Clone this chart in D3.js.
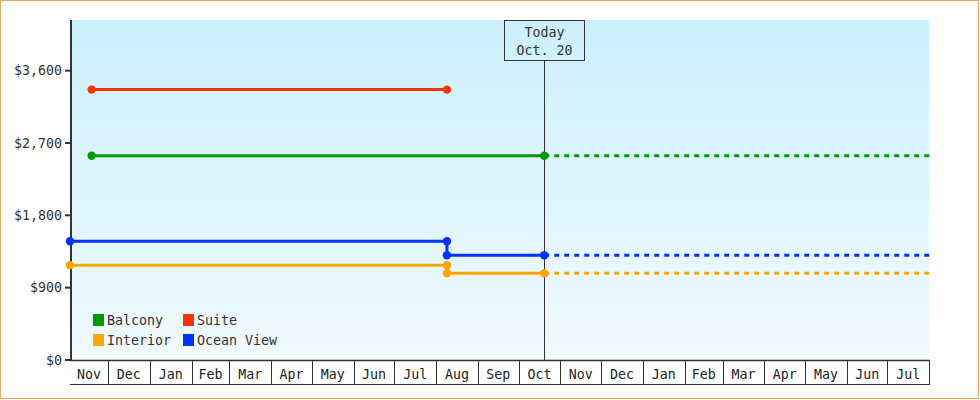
<!DOCTYPE html>
<html>
<head>
<meta charset="utf-8">
<script src="https://cdn.jsdelivr.net/npm/d3@7"></script>
<style>
  html, body { margin: 0; padding: 0; background: #fff; }
  svg { display: block; }
  text { font-family: "DejaVu Sans Mono", "Liberation Mono", monospace; }
</style>
</head>
<body>
<svg id="chart" width="980" height="400"></svg>
<script>
// ---------- data ----------
const categories = ["Balcony", "Suite", "Interior", "Ocean View"];
const seriesColors = ["#009900", "#ff3300", "#ffa500", "#0033ff"];
const balconyDates = ["2021-11-19", "2022-10-20"];
const balconyValues = [2542, 2542];
const suiteDates = ["2021-11-19", "2022-08-09"];
const suiteValues = [3364, 3364];
const interiorDates = ["2021-11-03", "2022-08-09", "2022-08-09", "2022-10-20"];
const interiorValues = [1178, 1178, 1079, 1079];
const oceanDates = ["2021-11-03", "2022-08-09", "2022-08-09", "2022-10-20"];
const oceanValues = [1477, 1477, 1303, 1303];
const projected = [true, false, true, true]; // extends dashed past today
const yTicks = [0, 900, 1800, 2700, 3600];
const xDomain = ["2021-11-03", "2023-08-01"];
const todayDate = "2022-10-20";
const todayLabel = ["Today", "Oct. 20"];
const yMax = 4230;

(function () {
// ---------- setup ----------
const parse = d3.timeParse("%Y-%m-%d");
const seriesDates = [balconyDates, suiteDates, interiorDates, oceanDates];
const seriesValues = [balconyValues, suiteValues, interiorValues, oceanValues];
const series = categories.map((name, i) => ({
  name, color: seriesColors[i], projected: projected[i],
  points: seriesDates[i].map((d, j) => ({ date: parse(d), value: seriesValues[i][j] }))
}));

const FS = 13.3;
const svg = d3.select("#chart");
const pLeft = 70, pRight = 929.3, pTop = 20, pBottom = 360;
const x = d3.scaleTime().domain(xDomain.map(parse)).range([pLeft, pRight]);
const y = d3.scaleLinear().domain([0, yMax]).range([pBottom, pTop]);

// outer border
svg.append("rect").attr("x", 0.5).attr("y", 0.5).attr("width", 978).attr("height", 398)
  .attr("fill", "#fff").attr("stroke", "#e9a860").attr("stroke-width", 1);

// background gradient
const defs = svg.append("defs");
const grad = defs.append("linearGradient").attr("id", "bg").attr("x1", 0).attr("y1", 0).attr("x2", 0).attr("y2", 1);
grad.append("stop").attr("offset", "0%").attr("stop-color", "#ccf0fd");
grad.append("stop").attr("offset", "100%").attr("stop-color", "#f1faff");
svg.append("rect").attr("x", pLeft).attr("y", pTop).attr("width", pRight - pLeft).attr("height", pBottom - pTop)
  .attr("fill", "url(#bg)");

// y axis
const yAxis = svg.append("g");
yAxis.append("line").attr("x1", pLeft + 1).attr("x2", pLeft + 1).attr("y1", pTop).attr("y2", pBottom + 1)
  .attr("stroke", "#333").attr("stroke-width", 2);
const fmt = d3.format("$,");
yTicks.forEach(t => {
  yAxis.append("line").attr("x1", pLeft - 5).attr("x2", pLeft).attr("y1", y(t)).attr("y2", y(t))
    .attr("stroke", "#333").attr("stroke-width", 2);
  yAxis.append("text").attr("x", pLeft - 8).attr("y", y(t)).attr("dy", "0.35em")
    .attr("text-anchor", "end").attr("font-size", FS).attr("fill", "#333").text(fmt(t));
});

// x axis month cells
const xAxis = svg.append("g");
const d0 = x.domain()[0], d1 = x.domain()[1];
const bounds = [d0].concat(d3.timeMonth.range(d3.timeMonth.ceil(d0), d1)).concat([d1]);
xAxis.append("line").attr("x1", pLeft).attr("x2", pRight).attr("y1", pBottom + 0.5).attr("y2", pBottom + 0.5)
  .attr("stroke", "#333").attr("stroke-width", 1.5);
xAxis.append("line").attr("x1", pLeft).attr("x2", pRight).attr("y1", 384.5).attr("y2", 384.5)
  .attr("stroke", "#333").attr("stroke-width", 1);
const monthFmt = d3.timeFormat("%b");
for (let i = 0; i < bounds.length - 1; i++) {
  const a = x(bounds[i]), b = x(bounds[i + 1]);
  if (i > 0) {
    xAxis.append("line").attr("x1", Math.round(a) + 0.5).attr("x2", Math.round(a) + 0.5)
      .attr("y1", pBottom).attr("y2", 385).attr("stroke", "#333").attr("stroke-width", 1);
  }
  xAxis.append("text").attr("x", (a + b) / 2).attr("y", 374).attr("dy", "0.35em")
    .attr("text-anchor", "middle").attr("font-size", FS).attr("fill", "#222")
    .text(monthFmt(bounds[i]));
}
xAxis.append("line").attr("x1", Math.round(pRight) + 0.5).attr("x2", Math.round(pRight) + 0.5)
  .attr("y1", pBottom).attr("y2", 385).attr("stroke", "#333").attr("stroke-width", 1);

// today marker
const tx = Math.round(x(parse(todayDate))) + 0.5;
svg.append("line").attr("x1", tx).attr("x2", tx).attr("y1", 60).attr("y2", pBottom)
  .attr("stroke", "#333").attr("stroke-width", 1);
svg.append("rect").attr("x", tx - 40).attr("y", 20.5).attr("width", 80).attr("height", 40)
  .attr("fill", "none").attr("stroke", "#333").attr("stroke-width", 1);
todayLabel.forEach((t, i) => {
  svg.append("text").attr("x", tx).attr("y", 32.5 + i * 17.5).attr("dy", "0.35em")
    .attr("text-anchor", "middle").attr("font-size", FS).attr("fill", "#333").text(t);
});

// lines
const line = d3.line().x(d => x(d.date)).y(d => y(d.value));
const gLines = svg.append("g");
series.forEach(s => {
  if (s.projected) {
    const last = s.points[s.points.length - 1];
    gLines.append("path").attr("d", line([last, { date: d1, value: last.value }]))
      .attr("fill", "none").attr("stroke", s.color).attr("stroke-width", 3)
      .attr("stroke-dasharray", "5,5");
  }
  gLines.append("path").attr("d", line(s.points)).attr("fill", "none")
    .attr("stroke", s.color).attr("stroke-width", 3);
  gLines.selectAll(null).data(s.points).enter().append("circle")
    .attr("cx", d => x(d.date)).attr("cy", d => y(d.value)).attr("r", 4.2)
    .attr("fill", s.color);
});

// legend
const legend = svg.append("g");
categories.forEach((c, i) => {
  const col = i % 2, row = Math.floor(i / 2);
  const lx = 93 + col * 90, ly = 314 + row * 20;
  legend.append("rect").attr("x", lx).attr("y", ly).attr("width", 11).attr("height", 12)
    .attr("fill", seriesColors[i]);
  legend.append("text").attr("x", lx + 14).attr("y", ly + 6).attr("dy", "0.35em")
    .attr("font-size", FS).attr("fill", "#333").text(c);
});
})();
</script>
</body>
</html>
